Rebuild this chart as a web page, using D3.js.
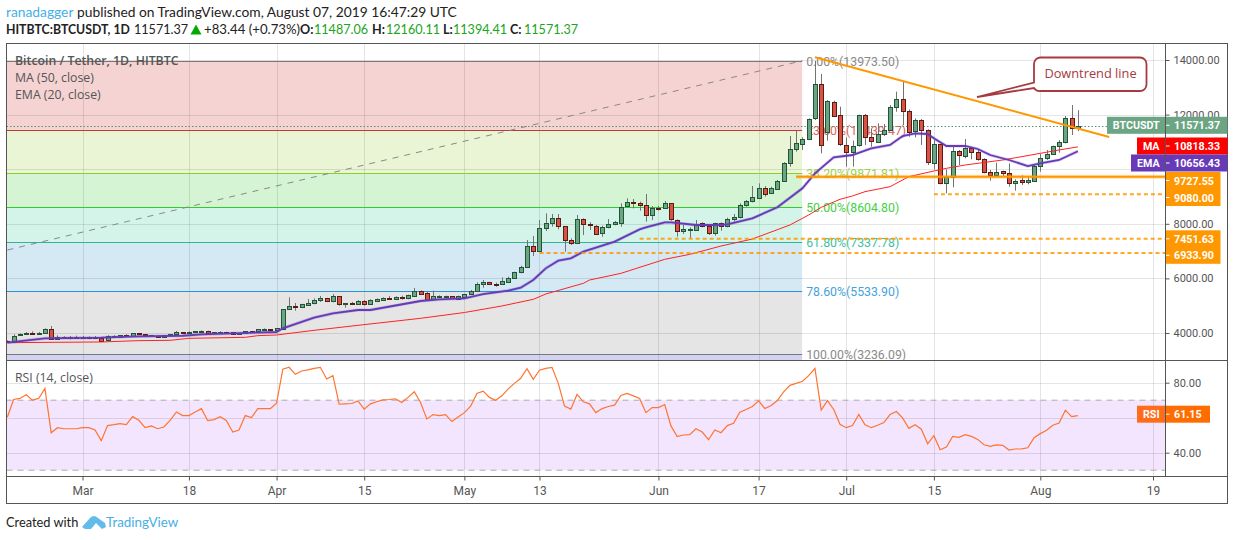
<!DOCTYPE html>
<html><head><meta charset="utf-8">
<script src="https://cdn.jsdelivr.net/npm/d3@7/dist/d3.min.js"></script>
<style>
html,body{margin:0;padding:0;background:#fff;overflow:hidden}
svg{display:block;font-family:"Open Sans",sans-serif}
</style></head><body><svg id="c" width="1234" height="540"></svg>
<script>
const opens=[3700,3683,3915,3952,4000,3988,3976,4135,3768,3842,
3817,3842,3817,3842,3842,3829,3719,3854,3854,3915,
3878,3988,3952,3878,3903,3866,3903,3952,4025,4013,
4013,4037,4074,4013,4013,4037,4025,3952,3988,4061,
4049,4110,4135,4110,4147,4855,4977,4928,5038,5075,
5185,5270,5148,5343,5050,5099,5063,5160,5038,5185,
5221,5282,5258,5307,5258,5368,5539,5453,5233,5306,
5306,5343,5257,5331,5416,5526,5782,5856,5807,5770,
5856,6002,6222,6405,7174,6979,7834,8005,8200,7907,
7394,7272,8163,7980,7931,7638,7858,7980,8053,8627,
8798,8750,8676,8298,8566,8566,8750,8127,7712,7810,
7785,8017,7907,7638,8017,7895,8151,8224,8664,8810,
8957,9323,9116,9275,9555,10202,10727,10898,11094,11863,
13108,11350,12461,11973,10898,10642,10862,11973,11167,11008,
11277,11436,12266,12559,12144,11375,11802,11423,10215,10923,
9482,9702,10654,10483,10764,10617,10361,9885,9775,9921,
9848,9482,9592,9506,9580,10092,10386,10544,10837,10984,
11875,11487.06];
const highs=[3730,3951,3988,4037,4061,4037,4171,4257,3915,3878,
3890,3903,3890,3878,3890,3829,3915,3915,3927,3952,
3998,3998,3964,3927,3915,3927,3952,4074,4037,4061,
4061,4098,4086,4037,4061,4049,4025,4000,4061,4074,
4135,4171,4147,4171,4867,5307,5099,5070,5246,5270,
5356,5290,5429,5356,5099,5136,5209,5209,5234,5270,
5307,5356,5343,5368,5404,5649,5560,5514,5550,5380,
5370,5356,5370,5440,5575,5856,5941,5875,5844,6039,
6063,6246,6466,7406,7553,8139,8383,8359,8359,7920,
7467,8322,8200,8053,7956,7931,8176,8102,8750,8933,
8908,8810,9091,8652,8652,8835,8750,8163,7956,7870,
8139,8053,7956,8041,8053,8224,8359,8750,8872,9384,
9482,9384,9360,9604,10260,11216,11411,11167,11863,13973,
13487,12534,12510,12290,11167,11045,11997,12022,11497,11680,
11655,12351,12840,13230,12193,11863,11839,11460,11069,10923,
9995,10886,10703,11106,10825,10703,10398,9970,10239,9946,
10215,9628,9775,9726,10154,10557,10703,10862,11069,11948,
12351,12160.11];
const lows=[3660,3671,3890,3939,3976,3976,3964,3756,3744,3805,
3768,3793,3793,3793,3793,3707,3695,3817,3842,3866,
3854,3939,3903,3870,3866,3854,3890,3927,4000,4000,
4000,4025,3988,4000,3988,4013,3952,3939,3976,4040,
4040,4098,4110,4098,4135,4843,4818,4920,5014,5050,
5136,5130,5124,5002,4928,5063,5038,5002,5026,5160,
5209,5221,5234,5221,5234,5356,5420,5209,5209,5290,
5295,5260,5245,5320,5392,5502,5660,5770,5697,5758,
5831,5978,6185,6393,6820,6967,7736,7895,7797,6979,
7223,7260,7590,7773,7590,7528,7834,7944,7895,8603,
8566,8481,8078,8139,8481,8542,8115,7528,7626,7467,
7773,7870,7590,7565,7748,7870,8078,8200,8627,8786,
8933,8994,9091,9250,9530,10092,10642,10703,11069,11802,
10581,11045,11924,10850,10092,10092,10825,10886,10825,10996,
11216,11411,12107,11619,11191,11167,10886,10154,9995,9445,
9116,9335,10154,10398,10361,10312,9848,9580,9750,9726,
9360,9213,9421,9445,9555,9909,10337,10520,10605,10947,
11252,11394.41];
const closes=[3680,3903,3964,4000,3988,4000,4135,3768,3842,3817,
3842,3817,3842,3817,3817,3719,3878,3903,3915,3866,
3988,3939,3903,3915,3866,3927,3952,4025,4013,4037,
4061,4061,4013,4037,4037,4025,3952,4000,4061,4049,
4135,4135,4122,4171,4867,4977,4928,5050,5099,5197,
5270,5148,5343,5038,5087,5087,5160,5038,5197,5246,
5282,5258,5319,5258,5380,5539,5441,5209,5355,5355,
5355,5270,5355,5428,5538,5782,5856,5782,5795,5892,
6002,6222,6405,7174,6991,7834,8017,8200,7895,7394,
7272,8163,7968,7944,7638,7870,7980,8053,8627,8786,
8750,8664,8298,8566,8554,8750,8151,7712,7797,7822,
8005,7907,7638,8017,7907,8163,8237,8676,8823,8969,
9323,9116,9299,9555,10230,10727,10947,11094,11839,13108,
10886,12498,11961,10898,10642,10862,11973,11167,11008,11289,
11423,12266,12559,12119,11375,11790,11423,10239,10923,9482,
9714,10654,10520,10764,10617,10361,9885,9775,9885,9848,
9482,9555,9519,9592,10117,10398,10544,10837,10996,11875,
11497,11571.37];
const rsiValues=[60.4,70.4,71.0,73.1,70.0,71.0,76.7,51.4,54.3,53.7,
53.7,53.7,54.3,54.3,53.0,46.9,55.5,56.0,56.6,56.0,
60.6,58.5,54.3,55.3,53.7,54.7,58.5,63.3,61.2,61.2,
63.3,65.2,58.3,58.9,60.6,58.3,51.8,53.0,61.2,60.1,
65.2,65.2,65.2,68.3,87.7,88.8,84.8,86.7,87.3,88.2,
88.8,82.1,84.0,67.7,67.9,68.1,69.6,64.9,67.9,69.1,
70.2,70.4,70.8,68.7,71.6,74.8,68.7,
59.3,61.8,61.2,61.8,57.8,60.4,62.9,66.6,73.9,75.2,71.6,70.0,
72.5,76.5,79.6,82.5,88.0,81.9,87.1,88.2,88.8,79.6,
66.6,64.9,73.3,69.1,67.9,62.9,65.2,66.4,67.2,72.7,
73.9,72.5,71.0,62.9,65.8,65.8,67.5,55.3,49.2,50.1,
50.3,53.7,51.8,47.4,53.0,51.4,55.5,56.8,63.1,64.7,
66.4,69.6,65.2,67.0,69.8,74.8,78.5,79.6,80.8,84.0,88.2,
64.3,69.8,64.7,56.2,54.3,55.5,61.8,56.0,54.3,55.7,
57.2,61.8,63.5,59.9,53.9,56.0,53.4,45.1,49.7,41.7,
43.2,49.3,48.8,50.3,49.3,47.6,44.5,43.6,44.5,44.2,
41.5,42.1,42.2,42.8,48.6,50.9,52.8,55.7,57.0,64.3,60.6,61.15];
const maDays=[0,15,21,26,29,38,40,43,49,56,66,73,79,84,86,92,93,98,105,109,114,119,125,128,130,133,135,137,141,144,148,150,153,159,165,168,171];
const maValues=[3646,3671,3720,3732,3805,3842,3903,3927,4098,4281,4538,4750,4990,5233,5428,5819,5941,6185,6698,6881,7186,7443,7956,8322,8603,8897,9019,9177,9360,9727,9934,10032,10154,10337,10581,10704,10818.33];
const emaDays=[0,6,15,21,28,31,43,44,49,52,56,58,66,69,73,76,80,82,84,86,88,90,92,97,101,102,105,106,110,113,115,119,123,127,129,132,135,138,141,143,145,147,148,150,153,155,157,160,163,165,168,171];
const emaValues=[3650,3805,3830,3880,3900,3950,4037,4171,4562,4721,4843,4843,5172,5233,5270,5428,5550,5660,5941,6368,6649,6735,6979,7345,7797,7870,8053,8053,7956,7956,7980,8200,8603,9299,9848,10435,10520,10765,10887,11216,11314,11290,11131,10850,10850,10740,10520,10337,10117,10215,10337,10656.43];
const fibLevels=[13973.50,11439.47,9871.81,8604.80,7337.78,5533.90,3236.09];
const fibNames=["0.00%","23.60%","38.20%","50.00%","61.80%","78.60%","100.00%"];
const fibFills=["#f4d3d2","#e9f5d4","#d4f4d4","#d4f4ea","#d4e9f4","#e5e5e5","#d2d2f2"];
const fibLines=["#787878","#c0392f","#8ed01f","#2fce2f","#2ab68f","#2b93d3","#787878"];
const fibText=["#8a8a8a","#e0625a","#9bd24a","#45cf45","#3cc29c","#45a3dc","#8a8a8a"];
const gridTicks=[14000,12000,10000,8000,6000,4000];
const priceLabels=[14000,12000,8000,6000,4000];
const rsiTicks=[80,40];
const rsiGrid=[80,60,40];
const timeTicks=["2019-03-01","2019-03-18","2019-04-01","2019-04-15","2019-05-01","2019-05-13","2019-06-01","2019-06-17","2019-07-01","2019-07-15","2019-08-01","2019-08-19"];
const timeLabels=["Mar","18","Apr","15","May","13","Jun","17","Jul","15","Aug","19"];
const supportLevels=[9727.55,9080.00,7451.63,6933.90];
const supportStartDays=[126,148,101,85];
const trendDays=[129,176];
const trendPrices=[14099,11180];
const fibDiagDays=[0,127];
const fibDiagPrices=[7040,13973.5];

const FONT='"Open Sans",sans-serif', AXF='Roboto,sans-serif', HDF='Lato,sans-serif';
const svg=d3.select("#c");
const L=6.5,R=1227.5,AX=1165.5,T=43.5,PB=360.5,RB=476.5,B=503.5;
const d0=Date.UTC(2019,1,17);
const day=i=>new Date(d0+i*864e5);
const x=d3.scaleUtc().domain([new Date("2019-03-01T00:00Z"),new Date("2019-08-19T00:00Z")]).range([82.5,1153]);
const y=d3.scaleLinear().domain([14000,4000]).range([60,333]);
const ry=d3.scaleLinear().domain([80,40]).range([382.7,452.7]);
const X=i=>x(day(i));
const defs=svg.append("defs");
defs.append("clipPath").attr("id","pp").append("rect").attr("x",L).attr("y",T).attr("width",AX-L).attr("height",PB-T);
defs.append("clipPath").attr("id","rp").append("rect").attr("x",L).attr("y",PB).attr("width",AX-L).attr("height",RB-PB);

const price=svg.append("g").attr("clip-path","url(#pp)");
const fibRight=X(127)-0.3;
fibFills.forEach((f,i)=>{
  const top=y(fibLevels[i]);
  const bot=i<fibLevels.length-1?y(fibLevels[i+1]):PB;
  price.append("rect").attr("x",L).attr("y",top).attr("width",fibRight-L).attr("height",bot-top).attr("fill",f);
});
const grid=svg.append("g").attr("clip-path","url(#pp)");
gridTicks.forEach(v=>grid.append("line").attr("x1",L).attr("x2",AX).attr("y1",Math.round(y(v))+.5).attr("y2",Math.round(y(v))+.5).attr("stroke","#000").attr("stroke-opacity",.1));
timeTicks.forEach(s=>{const px=Math.round(x(new Date(s+"T00:00Z")))+.5;
  grid.append("line").attr("x1",px).attr("x2",px).attr("y1",T).attr("y2",PB).attr("stroke","#000").attr("stroke-opacity",.1);});
const over=svg.append("g").attr("clip-path","url(#pp)");
fibLevels.forEach((v,i)=>{
  const py=Math.round(y(v))+.5;
  over.append("line").attr("x1",L).attr("x2",fibRight).attr("y1",py).attr("y2",py).attr("stroke",fibLines[i]).attr("stroke-width",1.2);
  over.append("text").attr("x",fibRight+4).attr("y",py+4).attr("fill",fibText[i]).attr("font-size",12.3).attr("font-family",AXF)
    .text(fibNames[i]+"("+v.toFixed(2)+")");
});
over.append("line").attr("x1",X(fibDiagDays[0])).attr("y1",y(fibDiagPrices[0])).attr("x2",X(fibDiagDays[1])).attr("y2",y(fibDiagPrices[1]))
  .attr("stroke","#888").attr("stroke-width",1).attr("stroke-dasharray","6 6");
const lastClose=closes[closes.length-1];
over.append("line").attr("x1",L).attr("x2",AX).attr("y1",Math.round(y(lastClose))+.5).attr("y2",Math.round(y(lastClose))+.5)
  .attr("stroke","#5f8f74").attr("stroke-dasharray","1.5 2");
const days=d3.range(opens.length);
const gc=svg.append("g").attr("clip-path","url(#pp)");
gc.selectAll("line.w").data(days).join("line").attr("class","w")
  .attr("x1",i=>Math.round(X(i))+.5).attr("x2",i=>Math.round(X(i))+.5)
  .attr("y1",i=>y(highs[i])).attr("y2",i=>y(lows[i])).attr("stroke","#737375");
gc.selectAll("rect").data(days).join("rect")
  .attr("x",i=>Math.round(X(i))-1.5).attr("width",4)
  .attr("y",i=>Math.round(y(Math.max(opens[i],closes[i])))+.5)
  .attr("height",i=>Math.max(1,Math.round(Math.abs(y(opens[i])-y(closes[i])))))
  .attr("fill",i=>closes[i]>=opens[i]?"#6ba583":"#d75442")
  .attr("stroke",i=>closes[i]>=opens[i]?"#225437":"#5b1a13").attr("stroke-width",1);
const ln=d3.line().x(d=>X(d[0])).y(d=>y(d[1]));
gc.append("path").datum(maDays.map((d,i)=>[d,maValues[i]])).attr("d",ln).attr("fill","none").attr("stroke","#f22").attr("stroke-width",1);
const emaD=emaDays.map((d,i)=>[d,emaValues[i]]);
gc.append("path").datum(emaD).attr("d",ln).attr("fill","none").attr("stroke","#673ab7").attr("stroke-opacity",.25).attr("stroke-width",3.2);
gc.append("path").datum(emaD).attr("d",ln).attr("fill","none").attr("stroke","#673ab7").attr("stroke-width",1.8);
supportLevels.forEach((v,i)=>{
  const py=y(v);
  const l=gc.append("line").attr("x1",X(supportStartDays[i])).attr("x2",AX).attr("y1",py).attr("y2",py).attr("stroke","#ff9800");
  if(i==0){l.attr("stroke-width",2);
    gc.append("line").attr("x1",X(supportStartDays[i])).attr("x2",AX).attr("y1",py).attr("y2",py).attr("stroke","#ff9800").attr("stroke-opacity",.3).attr("stroke-width",4);}
  else l.attr("stroke-width",2).attr("stroke-dasharray","4 3").attr("stroke-opacity",.85);
});
gc.append("line").attr("x1",X(trendDays[0])).attr("y1",y(trendPrices[0])).attr("x2",X(trendDays[1])).attr("y2",y(trendPrices[1]))
  .attr("stroke","#ff9800").attr("stroke-width",2);
svg.append("path").attr("d","M1040 57.5H1140a6.5 6.5 0 0 1 6.5 6.5V84.5a6.5 6.5 0 0 1 -6.5 6.5H1040a6.5 6.5 0 0 1 -6 -3L977 97L1034 82.5V64a6.5 6.5 0 0 1 6 -6.5Z")
  .attr("fill","#fff").attr("fill-opacity",.95).attr("stroke","#a63a40").attr("stroke-width",1.8);
svg.append("text").attr("x",1090.5).attr("y",78).attr("text-anchor","middle").attr("fill","#a63a40").attr("font-size",12.8).attr("font-family",FONT).text("Downtrend line");
const lg=svg.append("g").attr("font-family",FONT).attr("font-size",12.3).attr("fill","#555");
lg.append("text").attr("x",15).attr("y",65).attr("font-weight",600).text("Bitcoin / Tether, 1D, HITBTC");
lg.append("text").attr("x",15).attr("y",82).text("MA (50, close)");
lg.append("text").attr("x",15).attr("y",99).text("EMA (20, close)");
lg.append("text").attr("x",15).attr("y",382).text("RSI (14, close)");
const rp=svg.append("g").attr("clip-path","url(#rp)");
rp.append("rect").attr("x",L).attr("y",ry(70)).attr("width",AX-L).attr("height",ry(30)-ry(70)).attr("fill","#f3e5fd");
rsiGrid.forEach(v=>rp.append("line").attr("x1",L).attr("x2",AX).attr("y1",Math.round(ry(v))+.5).attr("y2",Math.round(ry(v))+.5).attr("stroke","#000").attr("stroke-opacity",.1));
timeTicks.forEach(s=>{const px=Math.round(x(new Date(s+"T00:00Z")))+.5;
  rp.append("line").attr("x1",px).attr("x2",px).attr("y1",PB).attr("y2",RB).attr("stroke","#000").attr("stroke-opacity",.1);});
[70,30].forEach(v=>rp.append("line").attr("x1",L).attr("x2",AX).attr("y1",ry(v)).attr("y2",ry(v)).attr("stroke","#aaa").attr("stroke-dasharray","6 5"));
rp.append("path").datum(rsiValues).attr("fill","none").attr("stroke","#ff7430").attr("stroke-width",1.2)
  .attr("d",d3.line().x((d,i)=>X(i)).y(d=>ry(d)));
const fmt=d3.format(".2f");
function styleAxis(g){g.select(".domain").remove();g.selectAll("line").attr("stroke","#555");
  g.selectAll("text").attr("fill","#555").attr("font-size",11).attr("font-family",AXF);}
svg.append("g").attr("transform",`translate(${AX},0)`).call(d3.axisRight(y).tickValues(priceLabels).tickFormat(fmt).tickSize(4).tickPadding(4)).call(styleAxis);
svg.append("g").attr("transform",`translate(${AX},0)`).call(d3.axisRight(ry).tickValues(rsiTicks).tickFormat(fmt).tickSize(4).tickPadding(4)).call(styleAxis);
const tickDates=timeTicks.map(s=>new Date(s+"T00:00Z"));
svg.append("g").attr("transform",`translate(0,${RB})`).call(d3.axisBottom(x).tickValues(tickDates).tickFormat((d,i)=>timeLabels[i]).tickSize(4).tickPadding(6)).call(styleAxis).selectAll("text").attr("font-size",12);
const fr=svg.append("g").attr("stroke","#555").attr("fill","none");
fr.append("rect").attr("x",L).attr("y",T).attr("width",R-L).attr("height",B-T);
fr.append("line").attr("x1",AX).attr("x2",AX).attr("y1",T).attr("y2",RB);
fr.append("line").attr("x1",L).attr("x2",R).attr("y1",PB).attr("y2",PB);
fr.append("line").attr("x1",L).attr("x2",R).attr("y1",RB).attr("y2",RB);
function tag(cy,name,nameX,val,col,col2,right){
  const g=svg.append("g").attr("font-family",AXF).attr("font-size",10.7).attr("font-weight",700).attr("fill","#fff");
  if(name){g.append("rect").attr("x",nameX).attr("y",cy-8.5).attr("width",AX-.5-nameX).attr("height",17).attr("fill",col);
    g.append("text").attr("x",(nameX+AX)/2).attr("y",cy+4).attr("text-anchor","middle").text(name);}
  g.append("rect").attr("x",AX+.5).attr("y",cy-8.5).attr("width",right-AX-.5).attr("height",17).attr("fill",col2||col);
  g.append("line").attr("x1",AX+.5).attr("x2",AX+4).attr("y1",cy).attr("y2",cy).attr("stroke","#fff");
  g.append("text").attr("x",AX+8.5).attr("y",cy+4).text(val);
}
tag(y(lastClose)-1,"BTCUSDT",1107,lastClose.toFixed(2),"#6ba583",null,1227.5);
tag(146,"MA",1137,maValues[maValues.length-1].toFixed(2),"#ff0000",null,1227.5);
tag(163,"EMA",1131,emaValues[emaValues.length-1].toFixed(2),"#673ab7",null,1227.5);
supportLevels.forEach((v,i)=>tag(i==0?180.5:i==1?197.5:i==2?238.8:255.3,null,0,v.toFixed(2),"#ff9800",null,1220.5));
tag(ry(rsiValues[rsiValues.length-1])-1.5,"RSI",1137,rsiValues[rsiValues.length-1].toFixed(2),"#ff6d1a","#ff6d00",1210);
const hd=svg.append("g").attr("font-family",HDF).attr("fill","#222");
const put=(t,xx,yy,c,b,s)=>hd.append("text").attr("x",xx).attr("y",yy).attr("fill",c||"#222").attr("font-weight",b?700:400).attr("font-size",s).text(t);
put("ranadagger",6,17,"#45b0e6",false,13.8);put("published on TradingView.com, August 07, 2019 16:47:29 UTC",77,17,null,false,13.8);
put("HITBTC:BTCUSDT, 1D",6,34,null,true,12.3);put("11571.37",134,34,null,false,12.6);
hd.append("path").attr("d","M190.5 34.5L196 24.5L201.5 34.5Z").attr("fill","#0a0");
put("+83.44 (+0.73%)",204,34,null,false,13.2);
put("O:",300,34,null,true,12.6);put("11487.06",314,34,"#1aa51a",false,12.6);
put("H:",372,34,null,true,12.6);put("12160.11",386,34,"#1aa51a",false,12.6);
put("L:",443,34,null,true,12.6);put("11394.41",453,34,"#1aa51a",false,12.6);
put("C:",510,34,null,true,12.6);put("11571.37",524,34,"#1aa51a",false,12.6);
put("Created with",6,527,null,false,12.8);
svg.append("path").attr("d","M82 527L90 518Q94 514 98 518L105 523L106 527L102 529L96 523L91 529H85Z").attr("fill","#45b0e6").attr("opacity",.85);
put("TradingView",106,527,"#45b0e6",false,13.4);
</script></body></html>
